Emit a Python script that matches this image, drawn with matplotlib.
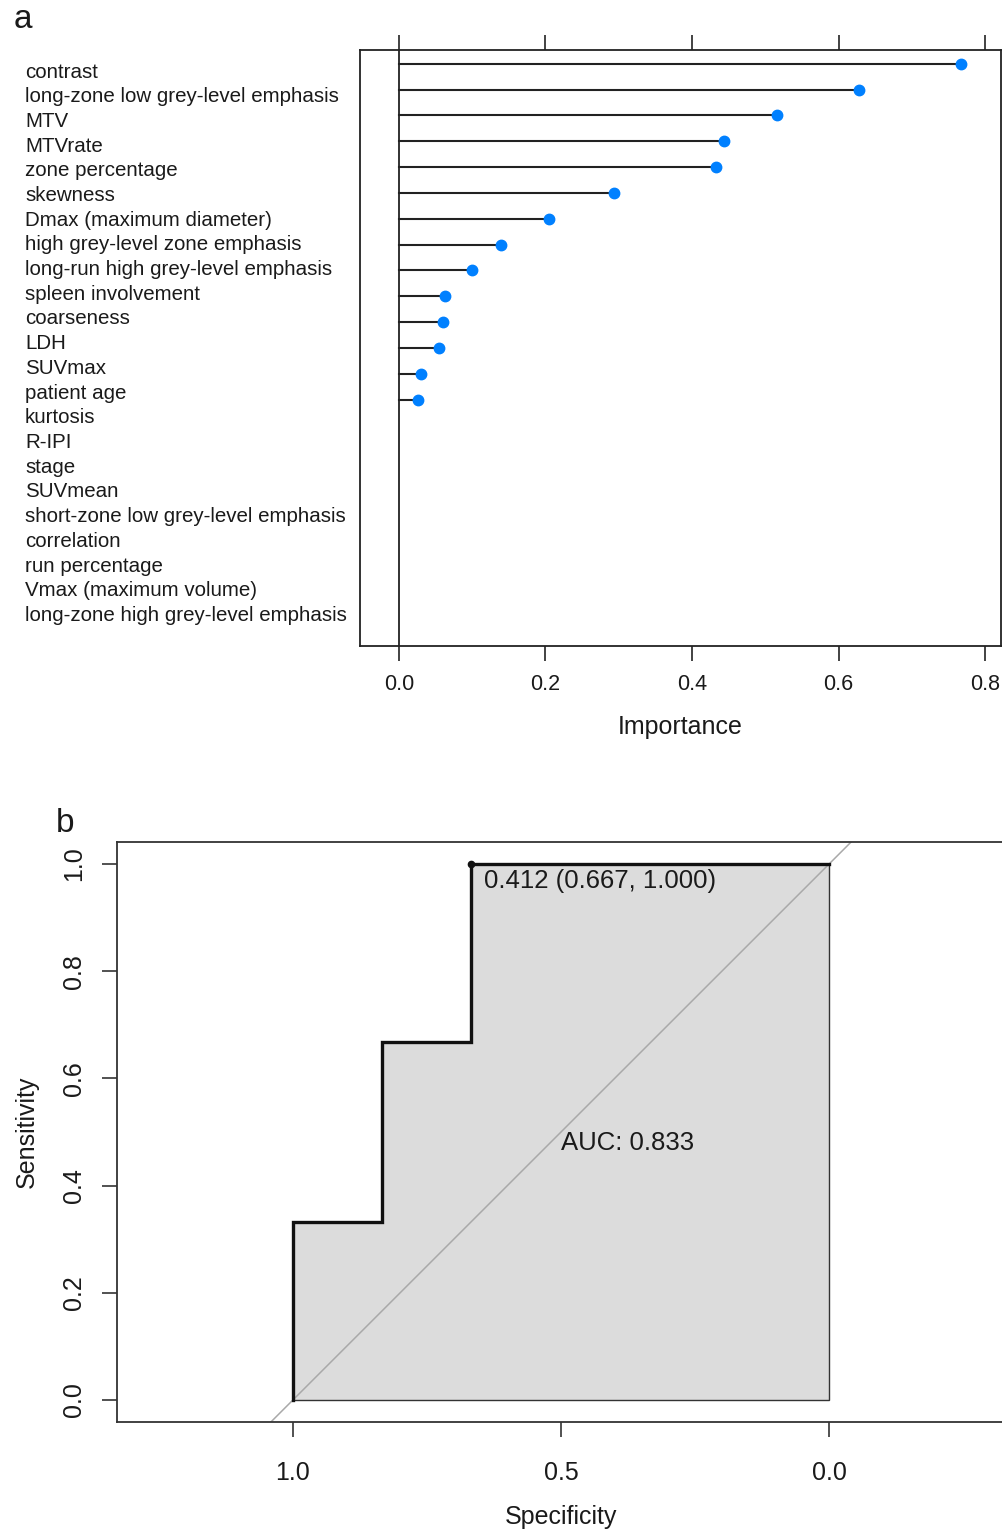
import matplotlib
matplotlib.use("Agg")
import matplotlib.pyplot as plt
import numpy as np

plt.rcParams["font.family"] = ["Liberation Sans", "DejaVu Sans"]

# Variable importance (random forest), top to bottom
features = [
    "contrast",
    "long-zone low grey-level emphasis",
    "MTV",
    "MTVrate",
    "zone percentage",
    "skewness",
    "Dmax (maximum diameter)",
    "high grey-level zone emphasis",
    "long-run high grey-level emphasis",
    "spleen involvement",
    "coarseness",
    "LDH",
    "SUVmax",
    "patient age",
    "kurtosis",
    "R-IPI",
    "stage",
    "SUVmean",
    "short-zone low grey-level emphasis",
    "correlation",
    "run percentage",
    "Vmax (maximum volume)",
    "long-zone high grey-level emphasis",
]
importance = [0.767, 0.628, 0.516, 0.444, 0.433, 0.294, 0.205, 0.139, 0.100,
              0.063, 0.060, 0.055, 0.030, 0.026, 0.0, 0.0, 0.0, 0.0, 0.0,
              0.0, 0.0, 0.0, 0.0]
importance_ticks = [0.0, 0.2, 0.4, 0.6, 0.8]

# ROC curve (specificity, sensitivity)
specificity = [1.0, 1.0, 0.833, 0.833, 0.667, 0.667, 0.0]
sensitivity = [0.0, 0.333, 0.333, 0.667, 0.667, 1.0, 1.0]
auc_value = 0.833
best_threshold = 0.412
best_spec = 0.667
best_sens = 1.0
spec_ticks = [1.0, 0.5, 0.0]
sens_ticks = [0.0, 0.2, 0.4, 0.6, 0.8, 1.0]

W, H = 1003, 1533
TXT = "#1a1a1a"
fig = plt.figure(figsize=(W / 100, H / 100), dpi=100)


def px_box(left, top, right, bottom):
    return [left / W, 1 - bottom / H, (right - left) / W, (bottom - top) / H]


# ---------------- panel a: importance dot plot ----------------
ax1 = fig.add_axes(px_box(360, 50, 1001, 646))
n = len(features)
rows = np.arange(n)
ax1.set_xlim(-0.0532, 0.8218)
ax1.set_ylim(n - 1 + 0.53, -0.53)
ax1.axvline(0, color="#222222", lw=1.3, zorder=2)
for r, v in zip(rows, importance):
    if v > 0:
        ax1.plot([0, v], [r, r], color="#222222", lw=1.5, zorder=2)
        ax1.plot(v, r, "o", color="#0080ff", mec="#0080ff", ms=7.5, zorder=3)
ax1.set_yticks([])
ax1.set_xticks(importance_ticks)
ax1.set_xticklabels([f"{t:.1f}" for t in importance_ticks])
ax1.tick_params(axis="x", top=True, bottom=True, labeltop=False,
                direction="out", length=11, width=1.2, pad=9,
                labelsize=15.5, colors="#222222", labelcolor=TXT)
for s in ax1.spines.values():
    s.set_linewidth(1.3)
    s.set_color("#222222")

for i, name in enumerate(features):
    y = 72 + 24.7 * i
    fig.text(25 / W, 1 - y / H, name, ha="left", va="center",
             fontsize=14.8, color=TXT)

fig.text(680 / W, 1 - 727 / H, "Importance", ha="center", va="center",
         fontsize=18, color=TXT)
fig.text(14 / W, 1 - 20 / H, "a", ha="left", va="center",
         fontsize=24, color=TXT)

# ---------------- panel b: ROC curve ----------------
ax2 = fig.add_axes(px_box(117, 842, 1005, 1422))
ax2.set_xlim(1.328, -0.328)
ax2.set_ylim(-0.041, 1.041)
ax2.fill(specificity + [0.0], sensitivity + [0.0], facecolor="#dcdcdc",
         edgecolor="#333333", lw=1.0, zorder=1)
ax2.axline((1, 0), (0, 1), color="#a9a9a9", lw=1.1, zorder=2)
ax2.plot(specificity, sensitivity, color="#111111", lw=2.4,
         solid_joinstyle="miter", zorder=3)
ax2.plot(best_spec, best_sens, "o", color="#111111", ms=4.5, zorder=4)
ax2.text(best_spec - 0.023, best_sens - 0.032,
         f"{best_threshold:.3f} ({best_spec:.3f}, {best_sens:.3f})",
         ha="left", va="center", fontsize=18.5, color=TXT)
ax2.text(0.5, 0.48, f"AUC: {auc_value:.3f}", ha="left", va="center",
         fontsize=18.5, color=TXT)

ax2.set_xticks(spec_ticks)
ax2.set_xticklabels([f"{t:.1f}" for t in spec_ticks])
ax2.set_yticks(sens_ticks)
ax2.set_yticklabels([f"{t:.1f}" for t in sens_ticks], rotation=90,
                    va="center")
ax2.tick_params(axis="both", direction="out", length=11, width=1.2,
                labelsize=18, colors="#333333", labelcolor=TXT)
ax2.tick_params(axis="x", pad=17)
ax2.tick_params(axis="y", pad=11)
for s in ax2.spines.values():
    s.set_linewidth(1.3)
    s.set_color("#333333")

fig.text(561 / W, 1 - 1517 / H, "Specificity", ha="center", va="center",
         fontsize=18, color=TXT)
fig.text(27 / W, 1 - 1132 / H, "Sensitivity", ha="center", va="center",
         rotation=90, fontsize=18, color=TXT)
fig.text(56 / W, 1 - 823 / H, "b", ha="left", va="center",
         fontsize=24, color=TXT)

fig.savefig("out.png", dpi=100, facecolor="white")
